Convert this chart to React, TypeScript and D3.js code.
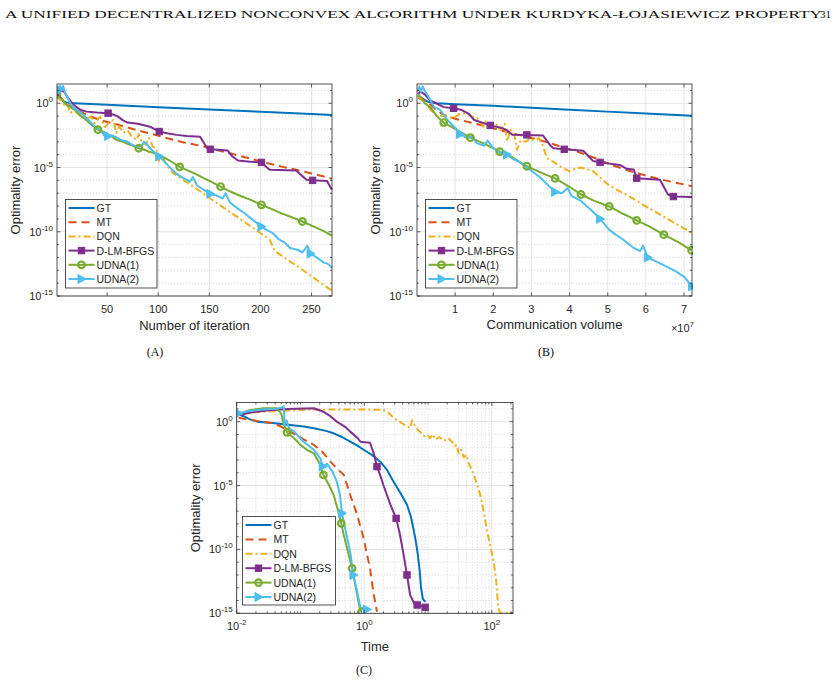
import React, { useEffect, useRef } from 'react';
import * as d3 from 'd3';

type Pt = [number, number];

// all error values are log10(optimality error)

// (A) x = number of iteration
const gtA: Pt[] = [[1, 0.6], [4, 0.35], [8, 0.12], [12, 0.03], [18, 0], [50, -0.12], [100, -0.3], [150, -0.48], [200, -0.66], [250, -0.84], [270, -0.91]];
const mtA: Pt[] = [[1, 0.5], [5, 0.35], [10, 0.0], [15, -0.3], [20, -0.5], [30, -0.9], [43, -1.3], [60, -1.65], [75, -2.0], [92, -2.35], [108, -2.7], [125, -3.05], [141, -3.3], [160, -3.7], [173, -3.95], [190, -4.3], [206, -4.65], [222, -4.95], [239, -5.25], [255, -5.55], [270, -5.88]];
const dqnA: Pt[] = [[1, 0.6], [4, 0.3], [8, -0.1], [11, 0.0], [14, -0.75], [18, -0.6], [22, -0.85], [26, -0.95], [30, -1.2], [34, -1.05], [38, -1.55], [43, -1.05], [48, -1.85], [52, -1.5], [56, -1.3], [59, -2.3], [62, -1.8], [66, -2.3], [70, -2.1], [74, -2.6], [79, -2.85], [81, -2.4], [84, -3.1], [88, -3.2], [91, -2.7], [95, -3.4], [98, -3.5], [101, -4.5], [104, -4.1], [108, -4.8], [114, -5.4], [131, -6.3], [150, -7.35], [170, -8.45], [190, -9.55], [209, -10.6], [214, -11.5], [240, -12.9], [270, -14.6]];
const lmA: Pt[] = [[1, 0.7], [4, 1.0], [8, 0.9], [12, 0.4], [16, 0.0], [20, -0.3], [25, -0.55], [30, -0.65], [40, -0.72], [51, -0.77], [55, -0.85], [60, -1.0], [66, -1.35], [70, -1.5], [80, -1.6], [92, -1.82], [96, -2.0], [101, -2.2], [110, -2.35], [118, -2.46], [128, -2.55], [141, -2.6], [144, -3.0], [148, -3.5], [151, -3.58], [168, -3.68], [172, -4.1], [178, -4.45], [190, -4.55], [201, -4.6], [205, -4.9], [209, -5.18], [235, -5.23], [240, -5.6], [245, -5.96], [251, -6.0], [265, -6.05], [270, -6.74]];
const udna1A: Pt[] = [[1, 0.7], [5, 0.4], [10, -0.1], [15, -0.35], [20, -0.6], [23, -0.9], [28, -1.2], [33, -1.55], [37, -1.8], [41, -2.05], [46, -2.2], [50, -2.45], [55, -2.6], [59, -2.85], [64, -2.95], [70, -3.15], [75, -3.3], [81, -3.5], [86, -3.6], [90, -3.75], [95, -3.85], [101, -4.0], [105, -4.2], [110, -4.4], [115, -4.65], [121, -4.95], [131, -5.3], [138, -5.55], [145, -5.85], [153, -6.15], [161, -6.48], [170, -6.85], [180, -7.2], [190, -7.5], [201, -7.9], [210, -8.2], [220, -8.55], [230, -8.85], [241, -9.2], [255, -9.7], [262, -9.95], [270, -10.3]];
const udna2A: Pt[] = [[1, 0.9], [2, 1.3], [3, 0.9], [4, 1.35], [6, 1.0], [7, 1.35], [9, 0.8], [11, 0.5], [14, 0.0], [18, -0.4], [23, -0.65], [28, -1.0], [33, -1.4], [38, -1.8], [44, -2.1], [47, -2.5], [51, -2.55], [55, -2.5], [60, -2.7], [65, -2.9], [69, -2.95], [74, -3.2], [79, -3.4], [84, -3.3], [86, -3.0], [88, -3.1], [92, -3.5], [96, -3.8], [101, -4.15], [108, -4.7], [114, -5.2], [118, -5.5], [124, -5.8], [128, -5.96], [131, -6.1], [134, -5.75], [138, -6.4], [144, -6.7], [151, -7.05], [158, -7.2], [163, -7.4], [166, -7.0], [170, -7.7], [178, -8.2], [185, -8.6], [193, -9.1], [201, -9.6], [207, -9.9], [212, -10.1], [218, -10.6], [223, -10.8], [229, -11.27], [236, -11.4], [241, -11.6], [246, -11.1], [249, -11.7], [255, -12.0], [262, -12.4], [266, -12.5], [270, -12.8]];
const lmMarkA = [1, 51, 101, 151, 201, 251];
const udna1MarkA = [1, 41, 81, 121, 161, 201, 241];
const udna2MarkA = [1, 51, 101, 151, 201, 251];

// (B) x = communication volume, in units of 1e7
const gtB: Pt[] = [[0.03, 0.6], [0.15, 0.35], [0.3, 0.1], [0.52, 0.0], [1, -0.07], [2, -0.2], [3, -0.35], [4, -0.5], [5, -0.65], [6, -0.8], [7.21, -0.98]];
const mtB: Pt[] = [[0.03, 0.4], [0.15, 0.3], [0.3, 0.05], [0.5, -0.5], [0.7, -0.9], [1.0, -1.2], [1.4, -1.5], [2.0, -1.95], [2.6, -2.4], [3.2, -2.85], [3.7, -3.3], [4.2, -3.76], [4.7, -4.3], [5.1, -4.8], [5.5, -5.2], [5.93, -5.57], [6.5, -6.0], [7.21, -6.45]];
const dqnB: Pt[] = [[0.03, 0.55], [0.1, 0.35], [0.2, 0.1], [0.35, -0.5], [0.5, -0.9], [0.65, -1.0], [0.79, -1.04], [0.95, -1.2], [1.1, -0.85], [1.31, -0.78], [1.45, -1.05], [1.6, -1.2], [1.74, -1.82], [1.8, -1.4], [1.95, -1.7], [2.05, -1.5], [2.2, -2.1], [2.3, -1.6], [2.36, -2.98], [2.45, -2.07], [2.55, -2.4], [2.62, -3.63], [2.72, -2.9], [2.85, -3.0], [2.95, -2.75], [3.1, -2.9], [3.2, -2.7], [3.31, -3.37], [3.4, -4.25], [3.6, -4.6], [3.75, -4.92], [4.0, -5.3], [4.15, -5.1], [4.3, -5.0], [4.62, -5.3], [5.0, -6.3], [5.24, -6.74], [5.6, -7.3], [5.93, -7.9], [6.4, -8.7], [6.8, -9.4], [7.21, -10.1]];
const lmB: Pt[] = [[0.03, 0.7], [0.09, 0.9], [0.2, 0.7], [0.35, 0.2], [0.5, 0.0], [0.7, -0.3], [0.96, -0.39], [1.15, -0.5], [1.35, -0.8], [1.5, -1.3], [1.92, -1.72], [2.2, -1.9], [2.36, -2.1], [2.5, -2.45], [2.88, -2.46], [3.3, -2.5], [3.5, -3.3], [3.58, -3.5], [3.86, -3.58], [4.36, -3.7], [4.62, -4.5], [4.8, -4.6], [5.32, -4.8], [5.5, -5.1], [5.68, -5.15], [5.76, -5.83], [6.37, -5.96], [6.58, -7.1], [6.72, -7.26], [7.21, -7.3]];
const udna1B: Pt[] = [[0.03, 0.65], [0.1, 0.5], [0.2, 0.0], [0.35, -0.3], [0.52, -1.0], [0.7, -1.5], [1.0, -2.0], [1.4, -2.68], [1.8, -3.2], [2.17, -3.76], [2.5, -4.2], [2.88, -4.9], [3.25, -5.4], [3.62, -5.85], [4.0, -6.5], [4.3, -7.1], [4.65, -7.6], [5.04, -8.03], [5.4, -8.6], [5.76, -9.12], [6.1, -9.6], [6.47, -10.23], [6.85, -10.8], [7.2, -11.45]];
const udna2B: Pt[] = [[0.03, 1.0], [0.06, 1.3], [0.1, 0.9], [0.15, 1.3], [0.2, 1.0], [0.3, 0.5], [0.45, -0.3], [0.61, -0.52], [0.8, -1.3], [1.0, -1.9], [1.13, -2.4], [1.3, -2.7], [1.45, -2.6], [1.57, -3.1], [1.75, -3.3], [1.85, -2.9], [2.0, -3.5], [2.2, -3.9], [2.36, -4.0], [2.5, -4.3], [2.7, -4.6], [2.88, -5.0], [3.2, -5.7], [3.62, -6.9], [3.8, -7.0], [3.95, -6.6], [4.05, -7.2], [4.3, -7.6], [4.6, -8.4], [4.8, -9.0], [5.04, -9.85], [5.2, -10.2], [5.4, -10.6], [5.7, -11.3], [5.85, -11.5], [5.93, -11.1], [6.05, -12.0], [6.4, -12.5], [6.8, -13.1], [7.0, -13.5], [7.21, -14.25]];
const lmMarkB = [0.96, 1.92, 2.88, 3.86, 4.8, 5.76, 6.72];
const udna1MarkB = [0.7, 1.4, 2.17, 2.88, 3.62, 4.3, 5.04, 5.76, 6.47, 7.2];
const udna2MarkB = [1.13, 2.36, 3.62, 4.8, 6.05, 7.21];

// (C) x = log10(time)
const gtC: Pt[] = [[-1.97, 0.55], [-1.9, 0.45], [-1.8, 0.2], [-1.68, 0.0], [-1.4, -0.12], [-1.16, -0.26], [-0.95, -0.38], [-0.79, -0.52], [-0.6, -0.72], [-0.48, -0.91], [-0.35, -1.2], [-0.22, -1.57], [-0.1, -1.9], [-0.01, -2.2], [0.12, -2.6], [0.25, -3.13], [0.36, -3.8], [0.46, -4.7], [0.57, -5.6], [0.67, -6.5], [0.73, -7.4], [0.77, -8.35], [0.81, -9.4], [0.84, -10.4], [0.87, -11.7], [0.89, -13.0], [0.92, -13.9], [0.96, -14.1]];
const mtC: Pt[] = [[-1.97, 0.3], [-1.8, 0.15], [-1.6, 0.0], [-1.42, -0.13], [-1.3, -0.4], [-1.16, -0.78], [-1.0, -1.25], [-0.79, -1.82], [-0.65, -2.4], [-0.53, -3.13], [-0.42, -3.7], [-0.32, -4.17], [-0.22, -5.74], [-0.11, -7.3], [-0.01, -9.13], [0.09, -11.48], [0.15, -13.57], [0.2, -14.88]];
const dqnC: Pt[] = [[-1.97, 0.55], [-1.8, 0.7], [-1.5, 0.8], [-1.2, 0.88], [-1.0, 0.92], [-0.5, 0.95], [0.0, 0.95], [0.3, 0.93], [0.38, 0.7], [0.46, 0.3], [0.55, 0.0], [0.65, -0.3], [0.72, -0.52], [0.75, 0.1], [0.78, -0.2], [0.85, -0.7], [0.9, -0.9], [0.95, -1.2], [1.0, -1.1], [1.03, -1.3], [1.08, -1.0], [1.12, -1.4], [1.18, -1.2], [1.25, -1.5], [1.32, -1.3], [1.38, -1.6], [1.42, -1.9], [1.45, -1.82], [1.48, -2.5], [1.52, -2.2], [1.56, -2.8], [1.6, -2.6], [1.63, -3.2], [1.7, -3.9], [1.76, -4.8], [1.82, -5.74], [1.87, -7.0], [1.92, -8.35], [1.97, -9.6], [2.03, -10.96], [2.07, -12.5], [2.1, -14.6], [2.13, -14.95], [2.33, -14.95]];
const lmC: Pt[] = [[-1.97, 0.5], [-1.8, 0.7], [-1.5, 0.9], [-1.2, 1.0], [-0.95, 1.03], [-0.79, 1.05], [-0.65, 0.8], [-0.55, 0.5], [-0.43, 0.0], [-0.3, -0.4], [-0.22, -0.78], [-0.1, -1.3], [-0.06, -1.57], [0.09, -1.65], [0.15, -2.5], [0.2, -3.52], [0.25, -4.2], [0.3, -4.96], [0.36, -5.8], [0.41, -6.5], [0.5, -7.57], [0.55, -8.6], [0.59, -9.65], [0.63, -10.8], [0.67, -12.0], [0.72, -13.57], [0.78, -14.2], [0.83, -14.35], [0.955, -14.53], [1.0, -14.53]];
const udna1C: Pt[] = [[-1.97, 0.6], [-1.8, 0.9], [-1.58, 1.05], [-1.37, 1.05], [-1.3, 0.6], [-1.26, -0.26], [-1.21, -0.83], [-1.1, -1.3], [-1.0, -1.82], [-0.9, -2.2], [-0.79, -2.48], [-0.7, -3.3], [-0.64, -4.17], [-0.55, -5.0], [-0.48, -5.74], [-0.42, -6.8], [-0.36, -7.96], [-0.32, -8.9], [-0.27, -9.9], [-0.19, -11.48], [-0.15, -12.5], [-0.11, -13.57], [-0.07, -14.6], [-0.04, -14.88]];
const udna2C: Pt[] = [[-1.97, 0.65], [-1.85, 0.8], [-1.6, 0.95], [-1.4, 1.0], [-1.3, 1.1], [-1.26, 1.2], [-1.25, -0.26], [-1.22, 0.1], [-1.18, -0.5], [-1.1, -0.78], [-0.95, -1.57], [-0.79, -2.2], [-0.69, -2.87], [-0.65, -3.5], [-0.58, -3.3], [-0.5, -3.9], [-0.43, -4.7], [-0.38, -5.74], [-0.35, -7.17], [-0.3, -8.35], [-0.22, -10.2], [-0.17, -12.0], [-0.09, -13.8], [-0.06, -14.6], [0.04, -14.7]];
const lmMarkC = [0.2, 0.5, 0.67, 0.83, 0.955];
const udna1MarkC = [-1.21, -0.64, -0.36, -0.19, -0.04];
const udna2MarkC = [-1.97, -0.65, -0.35, -0.17, 0.04];

const names = ['GT', 'MT', 'DQN', 'D-LM-BFGS', 'UDNA(1)', 'UDNA(2)'];
const colors = ['#0072BD', '#D95319', '#EDB120', '#7E2F8E', '#77AC30', '#4DBEEE'];
const dashes = [null, '8,5', '7,3,2,3', null, null, null];
const shapes = [null, null, null, 'square', 'circle', 'triangle'];

const iterTicks = [50, 100, 150, 200, 250];
const commTicks = [1, 2, 3, 4, 5, 6, 7];
const timeTicks = [-2, 0, 2];
const errTicks = [0, -5, -10, -15];

const FONT = "'Liberation Sans', Arial, sans-serif";
const SERIF = "'Liberation Serif', 'DejaVu Serif', serif";
const INK = '#262626';

function drawMarker(g, shape, cx, cy, color) {
	if (shape === 'square') {
		g.append('rect').attr('x', cx - 3.2).attr('y', cy - 3.2).attr('width', 6.4).attr('height', 6.4)
			.attr('fill', color).attr('stroke', color).attr('stroke-width', 1);
	} else if (shape === 'circle') {
		g.append('circle').attr('cx', cx).attr('cy', cy).attr('r', 3.3)
			.attr('fill', 'none').attr('stroke', color).attr('stroke-width', 2.2);
	} else if (shape === 'triangle') {
		g.append('path').attr('d', `M${cx - 3.5},${cy - 4.5}L${cx + 4.5},${cy}L${cx - 3.5},${cy + 4.5}Z`)
			.attr('fill', color).attr('stroke', color).attr('stroke-width', 1);
	}
}

function drawPanel(root, cfg) {
	const { id, left, right, top, bottom } = cfg;
	const g = root.append('g');

	const x = cfg.logX
		? d3.scaleLog().domain(cfg.xDomain).range([left, right])
		: d3.scaleLinear().domain(cfg.xDomain).range([left, right]);
	const y = d3.scaleLog().domain([1e-15, Math.pow(10, 1.5)]).range([bottom, top]);
	const xv = (v) => (cfg.logX ? Math.pow(10, v) : v);

	g.append('rect').attr('x', left).attr('y', top).attr('width', right - left).attr('height', bottom - top).attr('fill', '#fff');

	// minor grid (every decade on y)
	for (let e = -14; e <= 1; e++) {
		if (e % 5 === 0) continue;
		g.append('line').attr('x1', left).attr('x2', right).attr('y1', y(Math.pow(10, e))).attr('y2', y(Math.pow(10, e)))
			.attr('stroke', '#bdbdbd').attr('stroke-width', 0.6).attr('stroke-dasharray', '1,2');
	}
	const xMinor = [];
	if (cfg.logX) {
		for (let k = -2; k <= 2; k++) {
			for (let m = 1; m <= 9; m++) {
				const v = m * Math.pow(10, k);
				if (v <= cfg.xDomain[0] || v >= cfg.xDomain[1]) continue;
				if (m === 1 && k % 2 === 0) continue;
				xMinor.push(v);
			}
		}
		xMinor.forEach((v) => {
			g.append('line').attr('x1', x(v)).attr('x2', x(v)).attr('y1', top).attr('y2', bottom)
				.attr('stroke', '#bdbdbd').attr('stroke-width', 0.6).attr('stroke-dasharray', '1,2');
		});
	}
	// major grid
	errTicks.forEach((e) => {
		g.append('line').attr('x1', left).attr('x2', right).attr('y1', y(Math.pow(10, e))).attr('y2', y(Math.pow(10, e)))
			.attr('stroke', '#dedede').attr('stroke-width', 0.8);
	});
	cfg.xTicks.forEach((t) => {
		g.append('line').attr('x1', x(xv(t))).attr('x2', x(xv(t))).attr('y1', top).attr('y2', bottom)
			.attr('stroke', '#dedede').attr('stroke-width', 0.8);
	});

	// lines
	const clipId = `clip-${id}`;
	root.append('clipPath').attr('id', clipId).append('rect')
		.attr('x', left).attr('y', top - 1).attr('width', right - left + 1).attr('height', bottom - top + 1);
	const plot = g.append('g').attr('clip-path', `url(#${clipId})`);
	const line = d3.line().x((d) => x(xv(d[0]))).y((d) => y(Math.pow(10, d[1])));
	cfg.series.forEach((data, i) => {
		plot.append('path').datum(data).attr('d', line).attr('fill', 'none')
			.attr('stroke', colors[i]).attr('stroke-width', 2)
			.attr('stroke-linejoin', 'round')
			.attr('stroke-dasharray', dashes[i]);
	});
	cfg.series.forEach((data, i) => {
		const marks = cfg.marks[i];
		if (!marks) return;
		marks.forEach((m) => {
			const d = data.reduce((a, b) => (Math.abs(b[0] - m) < Math.abs(a[0] - m) ? b : a));
			drawMarker(plot, shapes[i], x(xv(d[0])), y(Math.pow(10, d[1])), colors[i]);
		});
	});

	// ticks
	const tk = (x1, y1, x2, y2) => g.append('line').attr('x1', x1).attr('y1', y1).attr('x2', x2).attr('y2', y2)
		.attr('stroke', INK).attr('stroke-width', 0.7);
	cfg.xTicks.forEach((t) => {
		const px = x(xv(t));
		tk(px, bottom, px, bottom - 3.5);
		tk(px, top, px, top + 3.5);
	});
	xMinor.forEach((v) => {
		tk(x(v), bottom, x(v), bottom - 2);
		tk(x(v), top, x(v), top + 2);
	});
	for (let e = -15; e <= 1; e++) {
		const len = e % 5 === 0 ? 3.5 : 2;
		const py = y(Math.pow(10, e));
		tk(left, py, left + len, py);
		tk(right, py, right - len, py);
	}
	g.append('rect').attr('x', left).attr('y', top).attr('width', right - left).attr('height', bottom - top)
		.attr('fill', 'none').attr('stroke', INK).attr('stroke-width', 0.8);

	// tick labels
	errTicks.forEach((e) => {
		const t = g.append('text').attr('x', left - 4).attr('y', y(Math.pow(10, e)) + 4)
			.attr('text-anchor', 'end').attr('font-family', FONT).attr('font-size', 11).attr('fill', INK);
		t.append('tspan').text('10');
		t.append('tspan').attr('dy', -5).attr('font-size', 8).text(String(e));
	});
	cfg.xTicks.forEach((tv) => {
		const t = g.append('text').attr('x', x(xv(tv))).attr('y', bottom + 17)
			.attr('text-anchor', 'middle').attr('font-family', FONT).attr('font-size', 11).attr('fill', INK);
		if (cfg.logX) {
			t.append('tspan').text('10');
			t.append('tspan').attr('dy', -5).attr('font-size', 8).text(String(tv));
		} else {
			t.text(String(tv));
		}
	});
	if (cfg.xExp) {
		const t = g.append('text').attr('x', right + 2).attr('y', bottom + 36)
			.attr('text-anchor', 'end').attr('font-family', FONT).attr('font-size', 11).attr('fill', INK);
		t.append('tspan').text('\u00d710');
		t.append('tspan').attr('dy', -5).attr('font-size', 8).text(cfg.xExp);
	}

	// axis labels
	g.append('text').attr('x', (left + right) / 2).attr('y', cfg.xLabelY)
		.attr('text-anchor', 'middle').attr('font-family', FONT).attr('font-size', 13).attr('fill', INK).text(cfg.xLabel);
	g.append('text').attr('transform', `translate(${left - 37},${(top + bottom) / 2}) rotate(-90)`)
		.attr('text-anchor', 'middle').attr('font-family', FONT).attr('font-size', 13).attr('fill', INK).text('Optimality error');

	// legend
	const L = cfg.legend;
	g.append('rect').attr('x', L.x).attr('y', L.y).attr('width', L.w).attr('height', L.h)
		.attr('fill', '#fff').attr('stroke', INK).attr('stroke-width', 0.8);
	names.forEach((name, i) => {
		const ry = L.y + L.first + i * L.step;
		g.append('line').attr('x1', L.x + 3).attr('x2', L.x + 29).attr('y1', ry).attr('y2', ry)
			.attr('stroke', colors[i]).attr('stroke-width', 2).attr('stroke-dasharray', dashes[i]);
		drawMarker(g, shapes[i], L.x + 16, ry, colors[i]);
		g.append('text').attr('x', L.x + 31).attr('y', ry + 4).attr('font-family', FONT).attr('font-size', 10.5)
			.attr('fill', INK).text(name);
	});

	// caption
	g.append('text').attr('x', cfg.capX).attr('y', cfg.capY).attr('text-anchor', 'middle')
		.attr('font-family', SERIF).attr('font-size', 12).attr('fill', '#111').text(cfg.caption);
}

export default function App() {
	const ref = useRef(null);

	useEffect(() => {
		const root = d3.select(ref.current);
		root.selectAll('*').remove();

		root.append('text').attr('x', 5).attr('y', 18).attr('font-family', SERIF)
			.attr('font-size', 11).attr('fill', '#111').attr('textLength', 817).attr('lengthAdjust', 'spacingAndGlyphs')
			.text('A UNIFIED DECENTRALIZED NONCONVEX ALGORITHM UNDER KURDYKA-\u0141OJASIEWICZ PROPERTY');
		root.append('text').attr('x', 831).attr('y', 18).attr('text-anchor', 'end')
			.attr('font-family', SERIF).attr('font-size', 11).attr('fill', '#111').text('31');

		drawPanel(root, {
			id: 'a', left: 57, right: 332, top: 84, bottom: 296,
			xDomain: [1, 270], xTicks: iterTicks, logX: false,
			series: [gtA, mtA, dqnA, lmA, udna1A, udna2A],
			marks: [null, null, null, lmMarkA, udna1MarkA, udna2MarkA],
			xLabel: 'Number of iteration', xLabelY: 330,
			legend: { x: 65.5, y: 199.5, w: 91.5, h: 88.5, first: 8.5, step: 14.2 },
			caption: '(A)', capX: 155, capY: 356,
		});
		drawPanel(root, {
			id: 'b', left: 417, right: 692, top: 84, bottom: 296,
			xDomain: [0, 7.21], xTicks: commTicks, logX: false, xExp: '7',
			series: [gtB, mtB, dqnB, lmB, udna1B, udna2B],
			marks: [null, null, null, lmMarkB, udna1MarkB, udna2MarkB],
			xLabel: 'Communication volume', xLabelY: 329,
			legend: { x: 425.5, y: 199.5, w: 91.5, h: 88.5, first: 8.5, step: 14.2 },
			caption: '(B)', capX: 546, capY: 356,
		});
		drawPanel(root, {
			id: 'c', left: 236.7, right: 513, top: 402.5, bottom: 613.3,
			xDomain: [0.01, 215], xTicks: timeTicks, logX: true,
			series: [gtC, mtC, dqnC, lmC, udna1C, udna2C],
			marks: [null, null, null, lmMarkC, udna1MarkC, udna2MarkC],
			xLabel: 'Time', xLabelY: 651,
			legend: { x: 242.5, y: 516.5, w: 93, h: 88.5, first: 8.5, step: 14.4 },
			caption: '(C)', capX: 364, capY: 674,
		});
	}, []);

	return (
		<svg ref={ref} width={837} height={686} style={{ position: 'absolute', left: 0, top: 0, background: '#fff' }} />
	);
}
